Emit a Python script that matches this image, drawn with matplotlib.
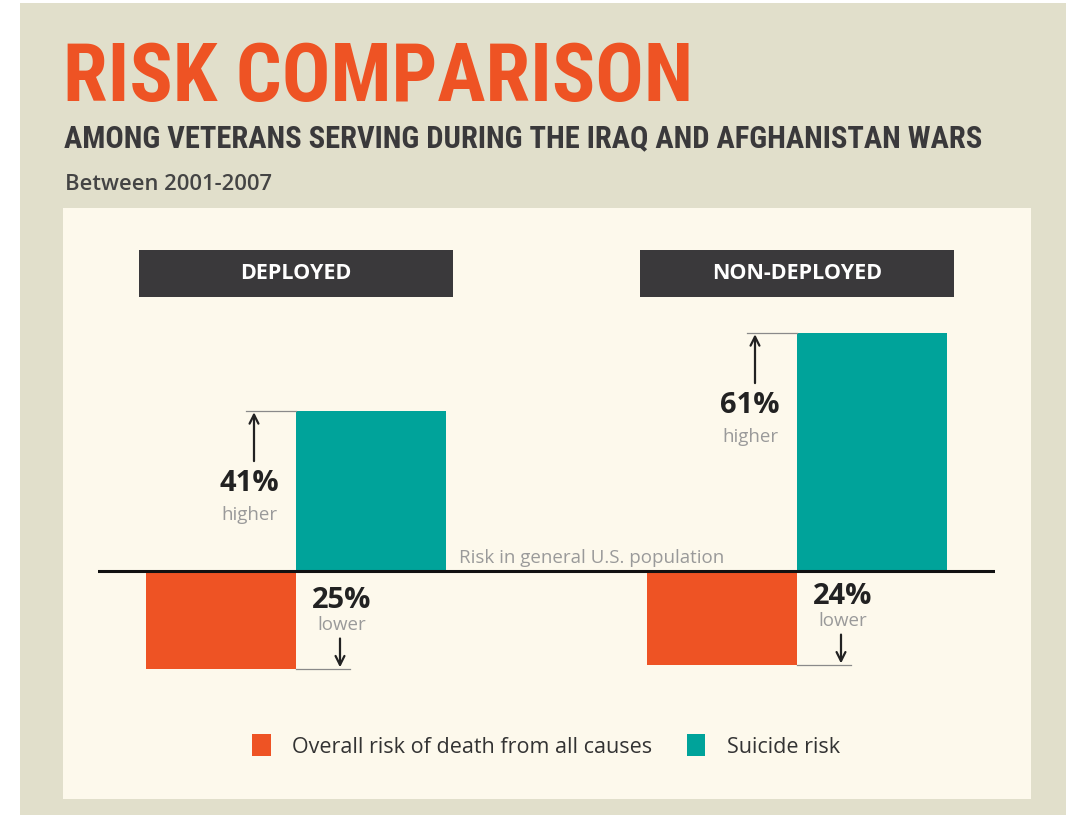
import matplotlib
matplotlib.use("Agg")
import matplotlib.pyplot as plt
from matplotlib.patches import Rectangle, Patch
from matplotlib import font_manager as fm

# ---------------- data ----------------
groups = ["DEPLOYED", "NON-DEPLOYED"]
overall_risk = [-25, -24]      # % vs general US population (lower)
suicide_risk = [41, 61]        # % vs general US population (higher)
series_labels = ["Overall risk of death from all causes", "Suicide risk"]
title = "RISK COMPARISON"
subtitle = "AMONG VETERANS SERVING DURING THE IRAQ AND AFGHANISTAN WARS"
period = "Between 2001-2007"
baseline_label = "Risk in general U.S. population"

# ---------------- style ----------------
ORANGE = "#ee5324"
TEAL = "#00a39a"
DARK = "#3a393b"
OUTER = "#e1dfcb"
INNER = "#fdf9ec"
GREY = "#9a9a9a"

names = {f.name for f in fm.fontManager.ttflist}
def pick(prefs):
    for p in prefs:
        if p in names:
            return p
    return "DejaVu Sans"
COND = pick(["Liberation Sans Narrow", "DejaVu Sans Condensed", "Roboto Condensed", "Open Sans Condensed", "Roboto"])
BODY = pick(["Open Sans", "Lato", "Noto Sans", "DejaVu Sans"])

W, H = 1076, 815
fig = plt.figure(figsize=(W / 100, H / 100), dpi=100)
fig.patch.set_facecolor("white")

def fx(px):
    return px / W
def fy(py):
    return 1 - py / H

# backgrounds
fig.patches.append(Rectangle((fx(20), 0), fx(1066) - fx(20), fy(3), transform=fig.transFigure,
                             facecolor=OUTER, edgecolor="none", zorder=-2))
fig.patches.append(Rectangle((fx(63), fy(799)), fx(1031) - fx(63), fy(208) - fy(799),
                             transform=fig.transFigure, facecolor=INNER, edgecolor="none", zorder=-1))

# titles
fig.text(fx(63), fy(101), title, color=ORANGE, fontsize=58, fontweight="bold",
         family=COND, ha="left", va="baseline")
fig.text(fx(64), fy(147), subtitle, color=DARK, fontsize=22, fontweight="bold",
         family=COND, ha="left", va="baseline")
fig.text(fx(65), fy(190), period, color="#444444", fontsize=15.8, fontweight="semibold",
         family=BODY, ha="left", va="baseline")

# ---------------- axes ----------------
ax_l, ax_r, ax_t, ax_b = 98, 995, 208, 700
ax = fig.add_axes([fx(ax_l), fy(ax_b), fx(ax_r) - fx(ax_l), fy(ax_t) - fy(ax_b)], zorder=2)
ax.set_facecolor("none")
for s in ax.spines.values():
    s.set_visible(False)
ax.set_xticks([])
ax.set_yticks([])

pxpu = 3.9  # pixels per percent
base_py = 571
ax.set_ylim(-(ax_b - base_py) / pxpu, (base_py - ax_t) / pxpu)
unit = 501.0
c0 = 296
ax.set_xlim(-(c0 - ax_l) / unit, 1 + (ax_r - (c0 + unit)) / unit)

bw = 150 / unit
x = list(range(len(groups)))
ax.bar([i - bw / 2 for i in x], overall_risk, width=bw, color=ORANGE, zorder=2)
ax.bar([i + bw / 2 for i in x], suicide_risk, width=bw, color=TEAL, zorder=2)

# baseline
ax.axhline(0, color="#111111", lw=2.2, zorder=3)
ax.text(0.59, 1.0, baseline_label, color=GREY, fontsize=13.5, family=BODY,
        ha="center", va="bottom")

# group header boxes
box_w = 314 / unit
box_top = (base_py - 250) / pxpu
box_bot = (base_py - 297) / pxpu
for i, g in enumerate(groups):
    ax.add_patch(Rectangle((i - box_w / 2, box_bot), box_w, box_top - box_bot,
                           facecolor=DARK, edgecolor="none", zorder=2))
    ax.text(i, (box_top + box_bot) / 2, g, color="white", fontsize=15.5, fontweight="bold",
            family=BODY, ha="center", va="center", zorder=3)

# annotations
for i in x:
    s = suicide_risk[i]
    o = overall_risk[i]
    # top reference line & arrow (left of teal bar)
    ax.plot([i - 50 / unit, i], [s, s], color="#8a8a8a", lw=0.9, zorder=2)
    ax_x = i - 42 / unit
    ax.annotate("", xy=(ax_x, s - 0.3), xytext=(ax_x, s - 50 / pxpu),
                arrowprops=dict(arrowstyle="->", color="#222222", lw=1.6,
                                mutation_scale=16, shrinkA=0, shrinkB=0))
    ax.text(ax_x - 5 / unit, s - 72 / pxpu, f"{s}%", color="#222222", fontsize=21,
            fontweight="bold", family=BODY, ha="center", va="center")
    ax.text(ax_x - 5 / unit, s - 104 / pxpu, "higher", color=GREY, fontsize=13.5,
            family=BODY, ha="center", va="center")
    # bottom reference line & arrow (right of orange bar)
    ax.plot([i, i + 54 / unit], [o, o], color="#8a8a8a", lw=0.9, zorder=2)
    bx = i + 44 / unit
    ax.annotate("", xy=(bx, o + 0.3), xytext=(bx, o + 30 / pxpu),
                arrowprops=dict(arrowstyle="->", color="#222222", lw=1.6,
                                mutation_scale=16, shrinkA=0, shrinkB=0))
    ax.text(bx + 2 / unit, o + 68 / pxpu, f"{abs(o)}%", color="#222222", fontsize=21,
            fontweight="bold", family=BODY, ha="center", va="center")
    ax.text(bx + 2 / unit, o + 44 / pxpu, "lower", color=GREY, fontsize=13.5,
            family=BODY, ha="center", va="center")

# legend
handles = [Patch(facecolor=ORANGE, edgecolor="none"), Patch(facecolor=TEAL, edgecolor="none")]
leg = fig.legend(handles, series_labels, loc="center", bbox_to_anchor=(fx(546), fy(746)),
                 ncol=2, frameon=False, handlelength=0.85, handleheight=1.2,
                 handletextpad=1.0, columnspacing=1.6, prop={"family": BODY, "size": 15.5})
for t in leg.get_texts():
    t.set_color("#333333")

fig.savefig("out.png", dpi=100, facecolor=fig.get_facecolor())
